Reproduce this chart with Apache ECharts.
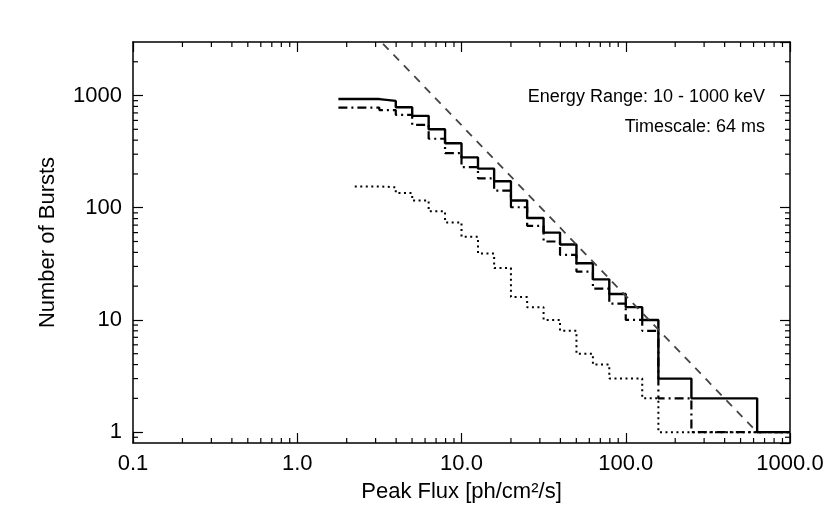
<!DOCTYPE html>
<html><head><meta charset="utf-8">
<script src="https://cdn.jsdelivr.net/npm/echarts@6/dist/echarts.min.js"></script>
<style>html,body{margin:0;padding:0;background:#fff}#c{width:830px;height:527px}</style>
</head><body><div id="c"></div>
<script>
// Bin left edges (last entry = right end of last bin) and cumulative counts
const solidEdges = [1.78, 3.16, 3.98, 5.01, 6.31, 7.94, 10, 12.6, 15.8, 20, 25.1, 31.6, 39.8, 50.1, 63.1, 79.4, 100, 126, 158, 251, 631, 1000];
const solidCounts = [930, 896, 786, 659, 501, 376, 281, 223, 172, 116, 81, 60, 47, 32, 23, 17, 13, 10, 3, 2, 1];
const dashDotEdges = [1.78, 3.16, 3.98, 5.01, 6.31, 7.94, 10, 12.6, 15.8, 20, 25.1, 31.6, 39.8, 50.1, 63.1, 79.4, 100, 126, 158, 251, 1000];
const dashDotCounts = [781, 742, 673, 548, 412, 307, 230, 183, 142, 101, 69, 50, 38, 27, 19, 14, 10, 8, 2, 1];
const dottedEdges = [2.24, 3.16, 3.98, 5.01, 6.31, 7.94, 10, 12.6, 15.8, 20, 25.1, 31.6, 39.8, 50.1, 63.1, 79.4, 126, 158, 1000];
const dottedCounts = [155, 152, 135, 116, 93, 74, 55, 39, 29, 16, 13, 10, 8, 5, 4, 3, 2, 1];
// Reference power-law line end points
const powerLawFlux = [3.33, 630];
const powerLawCounts = [2890, 1];
// Axis tick values
const xMinorTicks = [0.2,0.3,0.4,0.5,0.6,0.7,0.8,0.9, 2,3,4,5,6,7,8,9, 20,30,40,50,60,70,80,90, 200,300,400,500,600,700,800,900];
const yMinorTicks = [0.9, 2,3,4,5,6,7,8,9, 20,30,40,50,60,70,80,90, 200,300,400,500,600,700,800,900, 2000];
const xTitle = 'Peak Flux [ph/cm\u00B2/s]';
const yTitle = 'Number of Bursts';
const notes = ['Energy Range: 10 - 1000 keV', 'Timescale: 64 ms'];

const FONT = '"Liberation Sans", Arial, Helvetica, sans-serif';
function steps(edges, counts) {
  return edges.map((e, i) => [e, counts[Math.min(i, counts.length - 1)]]);
}
const axisLine = {show: true, lineStyle: {color: '#000', width: 1.5}};
const majorTick = {show: true, inside: true, length: 10, lineStyle: {color: '#000', width: 1.2}};

const chart = echarts.init(document.getElementById('c'), null, {renderer: 'canvas'});
chart.setOption({
  animation: false,
  backgroundColor: '#fff',
  grid: {left: 133, right: 40, top: 42, bottom: 84},
  xAxis: [{
    type: 'log', logBase: 10, min: 0.1, max: 1000, position: 'bottom',
    axisLine: axisLine, axisTick: majorTick, splitLine: {show: false},
    axisLabel: {color: '#000', fontSize: 22, fontFamily: FONT, margin: 10,
      formatter: v => Number(v).toFixed(1)},
    name: xTitle, nameLocation: 'middle', nameGap: 38,
    nameTextStyle: {color: '#000', fontSize: 22, fontFamily: FONT}
  }, {
    type: 'log', logBase: 10, min: 0.1, max: 1000, position: 'top',
    axisLine: axisLine, axisTick: majorTick, splitLine: {show: false},
    axisLabel: {show: false}
  }],
  yAxis: [{
    type: 'log', logBase: 10, min: 0.8, max: 3000, position: 'left',
    axisLine: axisLine, axisTick: majorTick, splitLine: {show: false},
    axisLabel: {color: '#000', fontSize: 22, fontFamily: FONT, margin: 11,
      showMinLabel: false, showMaxLabel: false,
      formatter: v => String(Math.round(v))},
    name: yTitle, nameLocation: 'middle', nameGap: 74,
    nameTextStyle: {color: '#000', fontSize: 22, fontFamily: FONT}
  }, {
    type: 'log', logBase: 10, min: 0.8, max: 3000, position: 'right',
    axisLine: axisLine, axisTick: majorTick, splitLine: {show: false},
    axisLabel: {show: false}
  }],
  graphic: notes.map((t, i) => ({
    type: 'text', x: 765, y: 97 + i * 30,
    style: {text: t, fill: '#000', font: '18px ' + FONT, align: 'right', verticalAlign: 'middle'}
  })),
  series: [
    {
      type: 'custom', name: 'xminor', silent: true, xAxisIndex: 0, yAxisIndex: 0,
      data: xMinorTicks.map(v => [v, 1]),
      renderItem: (params, api) => {
        const cs = params.coordSys;
        const px = api.coord([api.value(0), 1])[0];
        return {type: 'group', children: [
          {type: 'line', shape: {x1: px, y1: cs.y + cs.height, x2: px, y2: cs.y + cs.height - 5}, style: {stroke: '#000', lineWidth: 1.2}},
          {type: 'line', shape: {x1: px, y1: cs.y, x2: px, y2: cs.y + 5}, style: {stroke: '#000', lineWidth: 1.2}}
        ]};
      }
    },
    {
      type: 'custom', name: 'yminor', silent: true, xAxisIndex: 0, yAxisIndex: 0,
      data: yMinorTicks.map(v => [1, v]),
      renderItem: (params, api) => {
        const cs = params.coordSys;
        const py = api.coord([1, api.value(1)])[1];
        return {type: 'group', children: [
          {type: 'line', shape: {x1: cs.x, y1: py, x2: cs.x + 5, y2: py}, style: {stroke: '#000', lineWidth: 1.2}},
          {type: 'line', shape: {x1: cs.x + cs.width, y1: py, x2: cs.x + cs.width - 5, y2: py}, style: {stroke: '#000', lineWidth: 1.2}}
        ]};
      }
    },
    {
      type: 'line', name: 'dotted', step: 'end', symbol: 'none', z: 3,
      data: steps(dottedEdges, dottedCounts),
      lineStyle: {color: '#000', width: 2, type: [2, 3.5]}
    },
    {
      type: 'line', name: 'dashdot', step: 'end', symbol: 'none', z: 4,
      data: steps(dashDotEdges, dashDotCounts),
      lineStyle: {color: '#000', width: 2.2, type: [9, 4, 2, 4]}
    },
    {
      type: 'line', name: 'solid', step: 'end', symbol: 'none', z: 5,
      data: steps(solidEdges, solidCounts),
      lineStyle: {color: '#000', width: 2.4}
    },
    {
      type: 'line', name: 'powerlaw', symbol: 'none', z: 6,
      data: powerLawFlux.map((f, i) => [f, powerLawCounts[i]]),
      lineStyle: {color: '#444', width: 1.8, type: [8, 7]}
    }
  ]
});
</script>
</body></html>
